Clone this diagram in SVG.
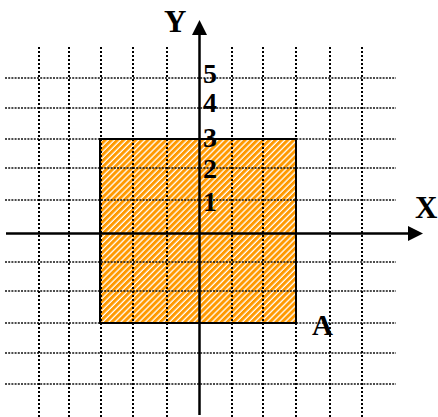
<svg xmlns="http://www.w3.org/2000/svg" width="438" height="417" viewBox="0 0 438 417">
<style>
.vg{stroke:#000;stroke-width:2;stroke-dasharray:2 2;fill:none}
.hg{stroke:#111;stroke-width:1.6;stroke-dasharray:2 1.2;fill:none}
.ax{stroke:#000;stroke-width:2.5;fill:none}
.ah{fill:#000;stroke:none}
.lbl{font-family:"Liberation Serif","Times New Roman",serif;font-weight:bold;fill:#000}
.num{font-size:28px}
</style>
<defs>
<pattern id="hatch" patternUnits="userSpaceOnUse" width="4.3" height="4.3" patternTransform="rotate(45)">
<rect x="0" y="0" width="4.3" height="4.3" fill="#fff"/>
<rect x="0" y="0" width="3" height="4.3" fill="#FF9900"/>
</pattern>
</defs>
<g id="region-fill">
<rect x="100" y="139" width="196" height="184" fill="url(#hatch)"/>
</g>
<g id="grid">
<line class="hg" x1="5" y1="78" x2="396" y2="78"/>
<line class="hg" x1="5" y1="108" x2="396" y2="108"/>
<line class="hg" x1="5" y1="139" x2="396" y2="139"/>
<line class="hg" x1="5" y1="168" x2="396" y2="168"/>
<line class="hg" x1="5" y1="200" x2="396" y2="200"/>
<line class="hg" x1="5" y1="262" x2="396" y2="262"/>
<line class="hg" x1="5" y1="291" x2="396" y2="291"/>
<line class="hg" x1="5" y1="323" x2="396" y2="323"/>
<line class="hg" x1="5" y1="353" x2="396" y2="353"/>
<line class="hg" x1="5" y1="384" x2="396" y2="384"/>
<line class="vg" x1="39" y1="47" x2="39" y2="417"/>
<line class="vg" x1="69" y1="47" x2="69" y2="417"/>
<line class="vg" x1="101" y1="47" x2="101" y2="417"/>
<line class="vg" x1="133" y1="47" x2="133" y2="417"/>
<line class="vg" x1="167" y1="47" x2="167" y2="417"/>
<line class="vg" x1="232" y1="47" x2="232" y2="417"/>
<line class="vg" x1="263" y1="47" x2="263" y2="417"/>
<line class="vg" x1="296" y1="47" x2="296" y2="417"/>
<line class="vg" x1="330" y1="47" x2="330" y2="417"/>
<line class="vg" x1="362" y1="47" x2="362" y2="417"/>
</g>
<g id="region-border">
<rect x="100" y="139" width="196" height="184" fill="none" stroke="#000" stroke-width="2"/>
</g>
<g id="connectors">
<line class="ax" x1="6" y1="233.5" x2="410" y2="233.5"/>
<polygon class="ah" points="408,226 423,233.5 408,241"/>
<line class="ax" x1="199.5" y1="415" x2="199.5" y2="33"/>
<polygon class="ah" points="192,35 199.5,20 207,35"/>
</g>
<g id="labels">
<text class="lbl" x="164" y="32" font-size="31">Y</text>
<text class="lbl" x="415" y="218" font-size="31">X</text>
<text class="lbl" x="312" y="335" font-size="29">A</text>
<text class="lbl num" x="203" y="83">5</text>
<text class="lbl num" x="203" y="112">4</text>
<text class="lbl num" x="203" y="147">3</text>
<text class="lbl num" x="203" y="178">2</text>
<text class="lbl num" x="203" y="211">1</text>
</g>
</svg>
